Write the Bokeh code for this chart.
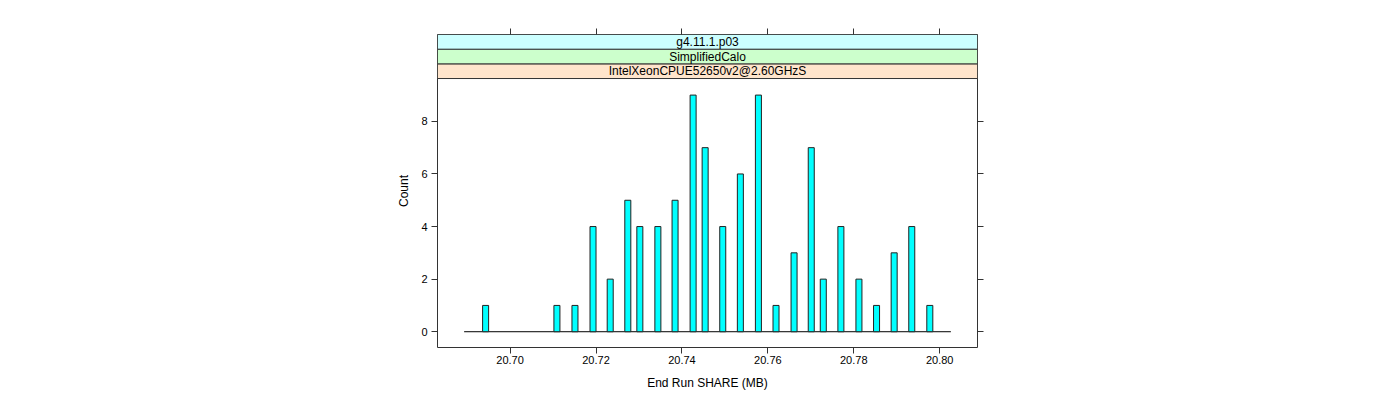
from bokeh.plotting import figure
from bokeh.models import Range1d, FixedTicker, LinearAxis, PrintfTickFormatter
from bokeh.core.properties import value
from bokeh.embed import file_html
from bokeh.resources import INLINE

# Data
share_mb = [20.6943, 20.7109, 20.7151, 20.7193, 20.7233, 20.7274, 20.7302, 20.7344,
            20.7384, 20.7426, 20.7454, 20.7495, 20.7536, 20.7578, 20.7619, 20.7661,
            20.7701, 20.7729, 20.7770, 20.7812, 20.7853, 20.7894, 20.7935, 20.7977]
counts = [1, 1, 1, 4, 2, 5, 4, 4, 5, 9, 7, 4, 6, 9, 1, 3, 7, 2, 4, 2, 1, 3, 4, 1]
baseline_x = [20.6893, 20.8026]
x_ticks = [20.70, 20.72, 20.74, 20.76, 20.78, 20.80]
y_ticks = [0, 2, 4, 6, 8]
strip_labels = ["IntelXeonCPUE52650v2@2.60GHzS", "SimplifiedCalo", "g4.11.1.p03"]
strip_colors = ["#FFE5CC", "#CCFFCC", "#CCFFFF"]

FONT = "Liberation Sans"
AX = "#333333"

x_lo, x_hi = 20.6831, 20.8088
y_lo, panel_top = -0.6, 9.63
strip_h = 0.558
y_hi = panel_top + strip_h * len(strip_labels)

p = figure(output_backend="svg", toolbar_location=None,
           frame_width=540, frame_height=313,
           x_range=Range1d(x_lo, x_hi), y_range=Range1d(y_lo, y_hi),
           min_border_left=437, min_border_right=400, min_border_top=34,
           min_border_bottom=10, x_axis_location=None, y_axis_location=None)
p.background_fill_color = "white"
p.border_fill_color = "white"
p.outline_line_color = AX
p.outline_line_width = 1
p.xgrid.visible = False
p.ygrid.visible = False


def style_axis(ax, labels=True):
    ax.axis_line_color = None
    ax.major_tick_line_color = AX
    ax.major_tick_out = 6
    ax.major_tick_in = 0
    ax.minor_tick_line_color = None
    ax.major_label_text_font = FONT
    ax.major_label_text_font_size = "11px"
    ax.major_label_text_color = "black"
    ax.axis_label_text_font = FONT
    ax.axis_label_text_font_size = "12px"
    ax.axis_label_text_font_style = "normal"
    ax.axis_label_text_color = "black"
    if not labels:
        ax.major_label_overrides = {t: "" for t in ax.ticker.ticks}
        ax.major_label_standoff = 0


bottom = LinearAxis(ticker=FixedTicker(ticks=x_ticks),
                    formatter=PrintfTickFormatter(format="%.2f"),
                    axis_label="End Run SHARE (MB)")
style_axis(bottom)
bottom.major_label_standoff = 2
bottom.axis_label_standoff = 9
p.add_layout(bottom, "below")

top = LinearAxis(ticker=FixedTicker(ticks=x_ticks))
style_axis(top, labels=False)
p.add_layout(top, "above")

left = LinearAxis(ticker=FixedTicker(ticks=y_ticks), axis_label="Count")
style_axis(left)
left.major_label_standoff = 4
left.axis_label_standoff = 7
p.add_layout(left, "left")

right = LinearAxis(ticker=FixedTicker(ticks=y_ticks))
style_axis(right, labels=False)
p.add_layout(right, "right")

# strips
xc = (x_lo + x_hi) / 2
for i, (lab, col) in enumerate(zip(strip_labels, strip_colors)):
    b = panel_top + i * strip_h
    p.quad(left=x_lo, right=x_hi, bottom=b, top=b + strip_h,
           fill_color=col, line_color=AX, line_width=1)
    p.text(x=[xc], y=[b + strip_h / 2], text=[lab], text_align="center",
           text_baseline="middle", text_font=value(FONT),
           text_font_size="12px", text_color="black")

# baseline and bars
p.line(x=baseline_x, y=[0, 0], line_color="black", line_width=1)
p.vbar(x=share_mb, top=counts, bottom=0, width=0.0014,
       fill_color="#00FFFF", line_color="#222222", line_width=1)

open("out.html", "w").write(file_html(p, INLINE))
